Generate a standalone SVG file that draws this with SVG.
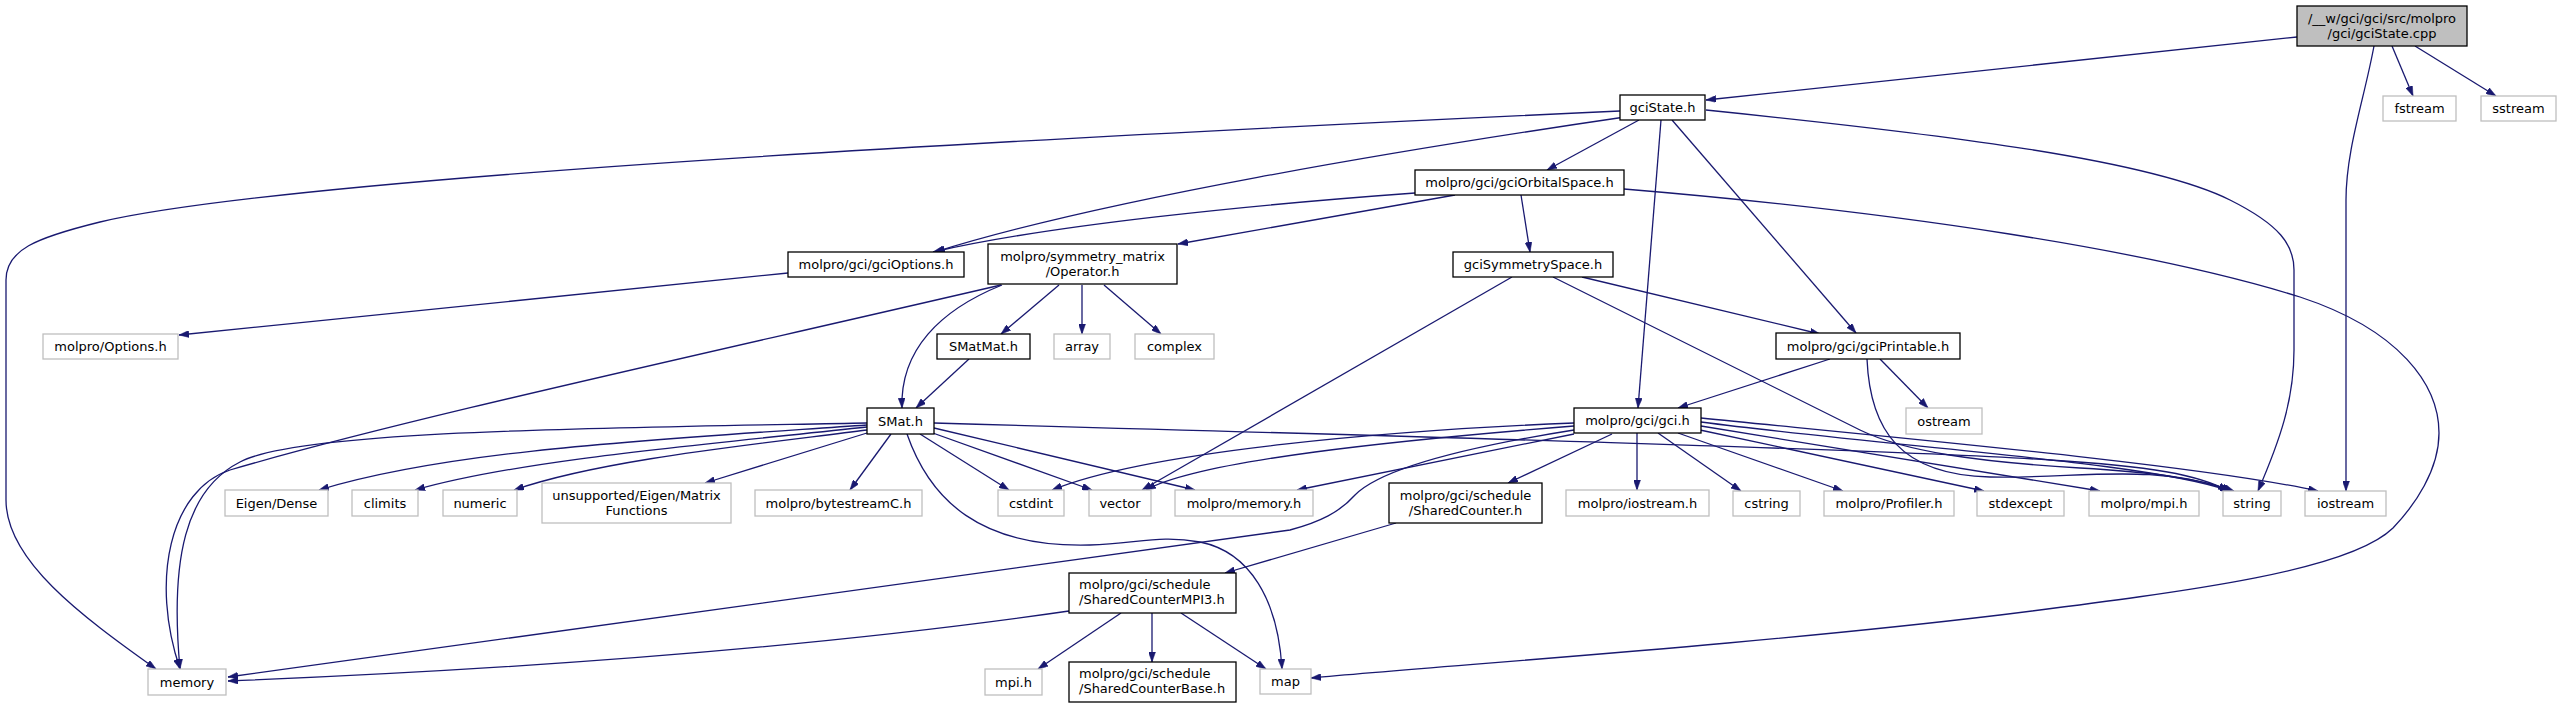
<svg xmlns="http://www.w3.org/2000/svg" width="2561" height="708" viewBox="0 0 2561 708">
<style>
text{font-family:"DejaVu Sans","Liberation Sans",sans-serif;font-size:13px;fill:#000;text-anchor:middle}
text.l{text-anchor:start}
.n rect{fill:#fff;stroke:#000;stroke-width:1.3}
.u rect{fill:#fff;stroke:#bfbfbf;stroke-width:1.3}
.r rect{fill:#bfbfbf;stroke:#000;stroke-width:1.3}
#edges path{fill:none;stroke:#191970;stroke-width:1.3;marker-end:url(#a)}
</style>
<defs>
<marker id="a" viewBox="0 0 10 7" refX="10" refY="3.5" markerWidth="10" markerHeight="7" markerUnits="userSpaceOnUse" orient="auto"><path d="M0,0 L10,3.5 L0,7 z" fill="#191970" stroke="#191970" stroke-width="0.5"/></marker>
</defs>
<rect width="2561" height="708" fill="#fff"/>
<g id="edges">
<path d="M2297,37 L1706,100"/>
<path d="M2392,46 L2413,96"/>
<path d="M2415,46 L2496,96"/>
<path d="M2374,46 C2364,100 2346,150 2346,200 L2346,491"/>
<path d="M1620,111 C1100,135 300,175 100,222 C35,238 6,250 6,280 L6,500 C6,560 80,615 156,669"/>
<path d="M1625,117 C1400,150 1100,200 935,252"/>
<path d="M1639,120 L1547,170"/>
<path d="M1661,120 L1638,408"/>
<path d="M1672,120 L1856,333"/>
<path d="M1706,110 C1950,135 2150,160 2230,200 C2280,225 2294,245 2294,270 L2294,350 C2294,400 2280,440 2258,491"/>
<path d="M1415,193 C1250,205 1050,225 933,252"/>
<path d="M1455,195 L1178,244"/>
<path d="M1521,195 L1530,252"/>
<path d="M1624,189 C1900,212 2150,250 2300,297 C2400,330 2439,385 2439,433 C2439,470 2415,505 2393,528 C2350,570 2200,590 2000,615 C1750,645 1450,665 1311,678"/>
<path d="M788,273 L179,335"/>
<path d="M1001,285 C700,355 400,420 230,470 C170,490 150,580 180,669"/>
<path d="M1002,285 C940,310 900,350 902,408"/>
<path d="M1059,285 L1001,334"/>
<path d="M1082,285 L1082,334"/>
<path d="M1104,285 L1161,334"/>
<path d="M969,359 L916,408"/>
<path d="M1512,277 L1142,490"/>
<path d="M1582,277 L1820,334"/>
<path d="M1553,277 L1860,430 C1905,452 1980,462 2080,468 C2150,472 2200,478 2232,491"/>
<path d="M1830,359 L1678,408"/>
<path d="M1880,359 L1928,408"/>
<path d="M1867,359 C1870,430 1900,475 1990,477 C2080,479 2150,462 2234,491"/>
<path d="M867,423 C600,428 300,430 240,462 C185,490 170,560 180,669"/>
<path d="M867,425 C650,440 450,450 319,490"/>
<path d="M867,427 C700,445 520,460 415,490"/>
<path d="M867,430 C750,445 600,460 514,490"/>
<path d="M867,433 L705,483"/>
<path d="M891,434 L850,490"/>
<path d="M920,434 L1009,490"/>
<path d="M930,432 L1092,490"/>
<path d="M934,428 L1195,490"/>
<path d="M907,434 C930,500 980,548 1090,545 C1140,543 1160,535 1200,542 C1250,552 1278,600 1282,669"/>
<path d="M934,423 C1400,436 1900,450 2050,460 C2150,466 2200,475 2228,491"/>
<path d="M1574,423 C1400,430 1150,450 1052,490"/>
<path d="M1574,426 C1400,440 1200,460 1146,490"/>
<path d="M1574,434 L1297,490"/>
<path d="M1574,430 C1460,448 1380,470 1355,495 C1340,512 1320,522 1290,530 L228,677"/>
<path d="M1612,434 L1508,483"/>
<path d="M1637,433 L1637,490"/>
<path d="M1658,433 L1741,491"/>
<path d="M1678,433 L1843,491"/>
<path d="M1700,430 L1984,491"/>
<path d="M1701,426 L2100,491"/>
<path d="M1701,422 C1900,448 2150,462 2230,491"/>
<path d="M1701,418 C1900,438 2200,465 2318,491"/>
<path d="M1396,523 L1225,573"/>
<path d="M1069,611 C800,650 500,670 228,681"/>
<path d="M1121,613 L1038,669"/>
<path d="M1152,613 L1152,662"/>
<path d="M1181,613 L1266,669"/>
</g>
<g id="gciState_cpp" class="r"><rect x="2297" y="6" width="170" height="40"/><text x="2382" y="23">/__w/gci/gci/src/molpro</text><text x="2382" y="38">/gci/gciState.cpp</text></g>
<g id="gciState_h" class="n"><rect x="1620" y="95" width="85" height="25"/><text x="1662.5" y="112">gciState.h</text></g>
<g id="fstream" class="u"><rect x="2383" y="96" width="73" height="25"/><text x="2419.5" y="113">fstream</text></g>
<g id="sstream" class="u"><rect x="2481" y="96" width="75" height="25"/><text x="2518.5" y="113">sstream</text></g>
<g id="gciOrbitalSpace" class="n"><rect x="1415" y="170" width="209" height="25"/><text x="1519.5" y="187">molpro/gci/gciOrbitalSpace.h</text></g>
<g id="gciOptions" class="n"><rect x="788" y="252" width="176" height="25"/><text x="876" y="269">molpro/gci/gciOptions.h</text></g>
<g id="Operator" class="n"><rect x="988" y="244" width="189" height="40"/><text x="1082.5" y="261">molpro/symmetry_matrix</text><text x="1082.5" y="276">/Operator.h</text></g>
<g id="gciSymmetrySpace" class="n"><rect x="1453" y="252" width="160" height="25"/><text x="1533" y="269">gciSymmetrySpace.h</text></g>
<g id="Options" class="u"><rect x="43" y="334" width="135" height="25"/><text x="110.5" y="351">molpro/Options.h</text></g>
<g id="SMatMat" class="n"><rect x="937" y="334" width="93" height="25"/><text x="983.5" y="351">SMatMat.h</text></g>
<g id="array" class="u"><rect x="1054" y="334" width="56" height="25"/><text x="1082" y="351">array</text></g>
<g id="complex" class="u"><rect x="1135" y="334" width="79" height="25"/><text x="1174.5" y="351">complex</text></g>
<g id="gciPrintable" class="n"><rect x="1776" y="333" width="184" height="26"/><text x="1868" y="350.5">molpro/gci/gciPrintable.h</text></g>
<g id="SMat" class="n"><rect x="867" y="408" width="67" height="26"/><text x="900.5" y="425.5">SMat.h</text></g>
<g id="gci_h" class="n"><rect x="1574" y="408" width="127" height="25"/><text x="1637.5" y="425">molpro/gci/gci.h</text></g>
<g id="ostream" class="u"><rect x="1906" y="408" width="76" height="26"/><text x="1944" y="425.5">ostream</text></g>
<g id="EigenDense" class="u"><rect x="225" y="490" width="103" height="26"/><text x="276.5" y="507.5">Eigen/Dense</text></g>
<g id="climits" class="u"><rect x="352" y="490" width="66" height="26"/><text x="385" y="507.5">climits</text></g>
<g id="numeric" class="u"><rect x="443" y="490" width="74" height="26"/><text x="480" y="507.5">numeric</text></g>
<g id="MatrixFunctions" class="u"><rect x="542" y="483" width="189" height="40"/><text x="636.5" y="500">unsupported/Eigen/Matrix</text><text x="636.5" y="515">Functions</text></g>
<g id="bytestreamC" class="u"><rect x="755" y="490" width="167" height="26"/><text x="838.5" y="507.5">molpro/bytestreamC.h</text></g>
<g id="cstdint" class="u"><rect x="998" y="490" width="66" height="26"/><text x="1031" y="507.5">cstdint</text></g>
<g id="vector" class="u"><rect x="1089" y="490" width="62" height="26"/><text x="1120" y="507.5">vector</text></g>
<g id="molpro_memory" class="u"><rect x="1175" y="490" width="138" height="26"/><text x="1244" y="507.5">molpro/memory.h</text></g>
<g id="SharedCounter" class="n"><rect x="1389" y="483" width="153" height="40"/><text x="1465.5" y="500">molpro/gci/schedule</text><text x="1465.5" y="515">/SharedCounter.h</text></g>
<g id="molpro_iostream" class="u"><rect x="1566" y="490" width="143" height="26"/><text x="1637.5" y="507.5">molpro/iostream.h</text></g>
<g id="cstring" class="u"><rect x="1733" y="491" width="67" height="25"/><text x="1766.5" y="508">cstring</text></g>
<g id="Profiler" class="u"><rect x="1824" y="491" width="130" height="25"/><text x="1889" y="508">molpro/Profiler.h</text></g>
<g id="stdexcept" class="u"><rect x="1977" y="491" width="87" height="25"/><text x="2020.5" y="508">stdexcept</text></g>
<g id="molpro_mpi" class="u"><rect x="2089" y="491" width="110" height="25"/><text x="2144" y="508">molpro/mpi.h</text></g>
<g id="string" class="u"><rect x="2223" y="491" width="58" height="25"/><text x="2252" y="508">string</text></g>
<g id="iostream" class="u"><rect x="2305" y="491" width="81" height="25"/><text x="2345.5" y="508">iostream</text></g>
<g id="SharedCounterMPI3" class="n"><rect x="1069" y="573" width="167" height="40"/><text class="l" x="1079" y="589">molpro/gci/schedule</text><text class="l" x="1079" y="604">/SharedCounterMPI3.h</text></g>
<g id="memory" class="u"><rect x="148" y="669" width="78" height="26"/><text x="187" y="686.5">memory</text></g>
<g id="mpi_h" class="u"><rect x="985" y="669" width="57" height="26"/><text x="1013.5" y="686.5">mpi.h</text></g>
<g id="SharedCounterBase" class="n"><rect x="1069" y="662" width="167" height="40"/><text class="l" x="1079" y="678">molpro/gci/schedule</text><text class="l" x="1079" y="693">/SharedCounterBase.h</text></g>
<g id="map" class="u"><rect x="1260" y="669" width="51" height="25"/><text x="1285.5" y="686">map</text></g>
</svg>
